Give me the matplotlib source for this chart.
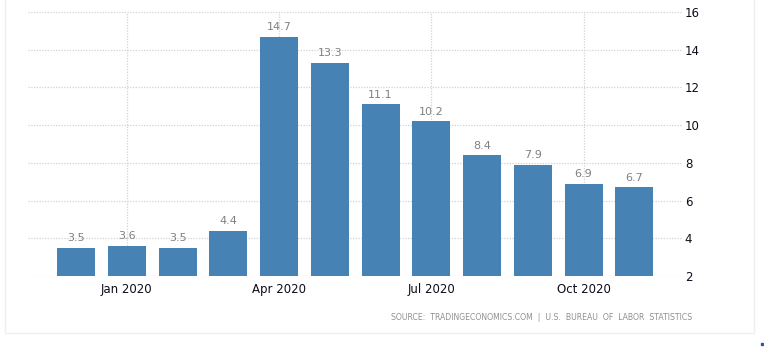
import matplotlib.pyplot as plt
from matplotlib.patches import Rectangle

months = ["Dec 2019", "Jan 2020", "Feb 2020", "Mar 2020", "Apr 2020", "May 2020",
          "Jun 2020", "Jul 2020", "Aug 2020", "Sep 2020", "Oct 2020", "Nov 2020"]
rate = [3.5, 3.6, 3.5, 4.4, 14.7, 13.3, 11.1, 10.2, 8.4, 7.9, 6.9, 6.7]
tick_months = ["Jan 2020", "Apr 2020", "Jul 2020", "Oct 2020"]
y_ticks = [2, 4, 6, 8, 10, 12, 14, 16]

fig = plt.figure(figsize=(7.64, 3.47), dpi=100)
ax = fig.add_axes([28/764, 1 - 276/347, (682 - 28)/764, (276 - 12)/347])

x = list(range(len(months)))
ax.bar(x, [v - 2 for v in rate], bottom=2, width=0.75, color="#4682b4", zorder=3)

for i, v in enumerate(rate):
    ax.text(i, v + 0.25, f"{v}", ha="center", va="bottom", fontsize=8,
            color="#808080", zorder=4)

ax.set_ylim(2, 16)
ax.set_xlim(-0.95, len(months) - 1 + 0.94)
ax.set_yticks(y_ticks)
ax.set_xticks([months.index(m) for m in tick_months])
ax.set_xticklabels(tick_months)
ax.yaxis.tick_right()
ax.tick_params(axis="both", length=0, labelsize=8.5, colors="#0d0d1a")
ax.tick_params(axis="y", pad=2)
ax.tick_params(axis="x", pad=5)
# light dotted grid
ax.grid(True, color="#d2d2d2", linestyle=(0, (1, 1.2)), linewidth=0.9, zorder=0)
for s in ax.spines.values():
    s.set_visible(False)

fig.text(692/764, 1 - 318/347,
         "SOURCE:  TRADINGECONOMICS.COM  |  U.S.  BUREAU  OF  LABOR  STATISTICS",
         ha="right", va="center", fontsize=5.6, color="#909090")

fig.patches.append(Rectangle((5/764, 1 - 333/347), (754 - 5)/764, 333/347 + 0.01,
                             transform=fig.transFigure, fill=False,
                             edgecolor="#eeeeee", linewidth=1))
fig.patches.append(Rectangle((761/764, 1 - 345/347), 2/764, 2/347,
                             transform=fig.transFigure, color="#3050c0"))

fig.savefig("out.png", dpi=100)
